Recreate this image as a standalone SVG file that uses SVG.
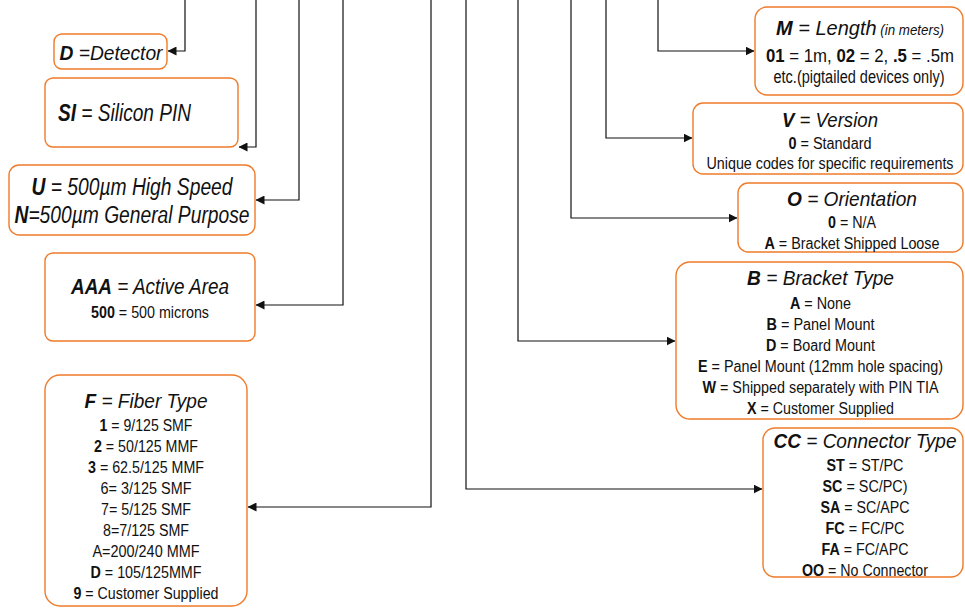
<svg xmlns="http://www.w3.org/2000/svg" width="965" height="608" viewBox="0 0 965 608">
<style>
.box{fill:#fff;stroke:#F07B2A;stroke-width:1.4}
.ln{fill:none;stroke:#111;stroke-width:1.2}
text{font-family:"Liberation Sans",Arial,sans-serif;fill:#111}
.ti{font-size:21px;font-style:italic}
.b{font-weight:bold}
.bi{font-weight:bold;font-style:italic}
.s{font-size:16px}
.m{text-anchor:middle}
</style>
<defs>
<marker id="ah" markerWidth="9" markerHeight="9" refX="8.5" refY="4.5" orient="auto" markerUnits="userSpaceOnUse">
<path d="M0,0 L9,4.5 L0,9 Z" fill="#111"/>
</marker>
</defs>
<g id="connectors">
<path class="ln" d="M185,0 V51 H168" marker-end="url(#ah)"/>
<path class="ln" d="M256,0 V147 H239" marker-end="url(#ah)"/>
<path class="ln" d="M299,0 V200 H256" marker-end="url(#ah)"/>
<path class="ln" d="M343,0 V305 H256" marker-end="url(#ah)"/>
<path class="ln" d="M431,0 V507 H248" marker-end="url(#ah)"/>
<path class="ln" d="M466,0 V489 H762" marker-end="url(#ah)"/>
<path class="ln" d="M518,0 V341 H675" marker-end="url(#ah)"/>
<path class="ln" d="M571,0 V218 H737" marker-end="url(#ah)"/>
<path class="ln" d="M606,0 V138 H692" marker-end="url(#ah)"/>
<path class="ln" d="M658,0 V51 H754" marker-end="url(#ah)"/>
</g>
<g id="detector">
<rect class="box" x="54" y="34" width="113" height="35" rx="8"/>
<text class="ti m" x="111" y="60" style="font-size:20px" textLength="103" lengthAdjust="spacingAndGlyphs"><tspan class="bi">D</tspan> =Detector</text>
</g>
<g id="silicon">
<rect class="box" x="45" y="78" width="193" height="69" rx="8"/>
<text class="ti" x="58" y="121" style="font-size:23px" textLength="133" lengthAdjust="spacingAndGlyphs"><tspan class="bi">SI</tspan> = Silicon PIN</text>
</g>
<g id="speed">
<rect class="box" x="9" y="165" width="246" height="70" rx="10"/>
<text class="ti m" x="132" y="195" style="font-size:23px" textLength="201" lengthAdjust="spacingAndGlyphs"><tspan class="bi">U</tspan> = 500µm High Speed</text>
<text class="ti m" x="132" y="222.5" style="font-size:23px" textLength="235" lengthAdjust="spacingAndGlyphs"><tspan class="bi">N</tspan>=500µm General Purpose</text>
</g>
<g id="area">
<rect class="box" x="45" y="253" width="210" height="88" rx="8"/>
<text class="ti m" x="150" y="294" style="font-size:22px" textLength="158" lengthAdjust="spacingAndGlyphs"><tspan class="bi">AAA</tspan> = Active Area</text>
<text class="s m" x="150" y="317.5" textLength="118" lengthAdjust="spacingAndGlyphs"><tspan class="b">500</tspan> = 500 microns</text>
</g>
<g id="fiber">
<rect class="box" x="45" y="375" width="202" height="231" rx="15"/>
<text class="ti m" x="146" y="407.5" textLength="123" lengthAdjust="spacingAndGlyphs"><tspan class="bi">F</tspan> = Fiber Type</text>
<text class="s m" x="146" y="431" textLength="93" lengthAdjust="spacingAndGlyphs"><tspan class="b">1</tspan> = 9/125 SMF</text>
<text class="s m" x="146" y="452" textLength="104" lengthAdjust="spacingAndGlyphs"><tspan class="b">2</tspan> = 50/125 MMF</text>
<text class="s m" x="146" y="473" textLength="116" lengthAdjust="spacingAndGlyphs"><tspan class="b">3</tspan> = 62.5/125 MMF</text>
<text class="s m" x="146" y="494" textLength="91" lengthAdjust="spacingAndGlyphs">6= 3/125 SMF</text>
<text class="s m" x="146" y="515" textLength="90" lengthAdjust="spacingAndGlyphs">7= 5/125 SMF</text>
<text class="s m" x="146" y="536" textLength="86" lengthAdjust="spacingAndGlyphs">8=7/125 SMF</text>
<text class="s m" x="146" y="557" textLength="107" lengthAdjust="spacingAndGlyphs">A=200/240 MMF</text>
<text class="s m" x="146" y="578" textLength="111" lengthAdjust="spacingAndGlyphs"><tspan class="b">D</tspan> = 105/125MMF</text>
<text class="s m" x="146" y="599" textLength="145" lengthAdjust="spacingAndGlyphs"><tspan class="b">9</tspan> = Customer Supplied</text>
</g>
<g id="length">
<rect class="box" x="755" y="7" width="208" height="88" rx="12"/>
<text class="ti m" x="860" y="35" textLength="168" lengthAdjust="spacingAndGlyphs"><tspan class="bi">M</tspan> = Length<tspan style="font-size:14px"> (in meters)</tspan></text>
<text class="m" x="860" y="62" style="font-size:19px" textLength="188" lengthAdjust="spacingAndGlyphs"><tspan class="b">01</tspan> = 1m, <tspan class="b">02</tspan> = 2, <tspan class="b">.5</tspan> = .5m</text>
<text class="m" x="859" y="83" style="font-size:18px" textLength="171" lengthAdjust="spacingAndGlyphs">etc.(pigtailed devices only)</text>
</g>
<g id="version">
<rect class="box" x="693" y="103" width="270" height="71" rx="10"/>
<text class="ti m" x="830" y="126.5" textLength="96" lengthAdjust="spacingAndGlyphs"><tspan class="bi">V</tspan> = Version</text>
<text class="s m" x="830" y="149" textLength="83" lengthAdjust="spacingAndGlyphs"><tspan class="b">0</tspan> = Standard</text>
<text class="s m" x="830" y="169" textLength="247" lengthAdjust="spacingAndGlyphs">Unique codes for specific requirements</text>
</g>
<g id="orientation">
<rect class="box" x="738" y="183" width="225" height="69" rx="10"/>
<text class="ti m" x="852" y="205.5" textLength="130" lengthAdjust="spacingAndGlyphs"><tspan class="bi">O</tspan> = Orientation</text>
<text class="s m" x="852" y="227.5" textLength="48" lengthAdjust="spacingAndGlyphs"><tspan class="b">0</tspan> = N/A</text>
<text class="s m" x="852" y="249" textLength="175" lengthAdjust="spacingAndGlyphs"><tspan class="b">A</tspan> = Bracket Shipped Loose</text>
</g>
<g id="bracket">
<rect class="box" x="676" y="262" width="287" height="157" rx="14"/>
<text class="ti m" x="820.5" y="285" textLength="147" lengthAdjust="spacingAndGlyphs"><tspan class="bi">B</tspan> = Bracket Type</text>
<text class="s m" x="820.5" y="309" textLength="61" lengthAdjust="spacingAndGlyphs"><tspan class="b">A</tspan> = None</text>
<text class="s m" x="820.5" y="330" textLength="108" lengthAdjust="spacingAndGlyphs"><tspan class="b">B</tspan> = Panel Mount</text>
<text class="s m" x="820.5" y="351" textLength="109" lengthAdjust="spacingAndGlyphs"><tspan class="b">D</tspan> = Board Mount</text>
<text class="s m" x="820.5" y="372" textLength="245" lengthAdjust="spacingAndGlyphs"><tspan class="b">E</tspan> = Panel Mount (12mm hole spacing)</text>
<text class="s m" x="820.5" y="393" textLength="236" lengthAdjust="spacingAndGlyphs"><tspan class="b">W</tspan> = Shipped separately with PIN TIA</text>
<text class="s m" x="820.5" y="414" textLength="147" lengthAdjust="spacingAndGlyphs"><tspan class="b">X</tspan> = Customer Supplied</text>
</g>
<g id="connector">
<rect class="box" x="763" y="428" width="200" height="149" rx="12"/>
<text class="ti m" x="865" y="448" textLength="183" lengthAdjust="spacingAndGlyphs"><tspan class="bi">CC</tspan> = Connector Type</text>
<text class="s m" x="865" y="470.5" textLength="77" lengthAdjust="spacingAndGlyphs"><tspan class="b">ST</tspan> = ST/PC</text>
<text class="s m" x="865" y="491.5" textLength="85" lengthAdjust="spacingAndGlyphs"><tspan class="b">SC</tspan> = SC/PC)</text>
<text class="s m" x="865" y="512.5" textLength="89" lengthAdjust="spacingAndGlyphs"><tspan class="b">SA</tspan> = SC/APC</text>
<text class="s m" x="865" y="533.5" textLength="79" lengthAdjust="spacingAndGlyphs"><tspan class="b">FC</tspan> = FC/PC</text>
<text class="s m" x="865" y="554.5" textLength="87" lengthAdjust="spacingAndGlyphs"><tspan class="b">FA</tspan> = FC/APC</text>
<text class="s m" x="865" y="575.5" textLength="126" lengthAdjust="spacingAndGlyphs"><tspan class="b">OO</tspan> = No Connector</text>
</g>
</svg>
